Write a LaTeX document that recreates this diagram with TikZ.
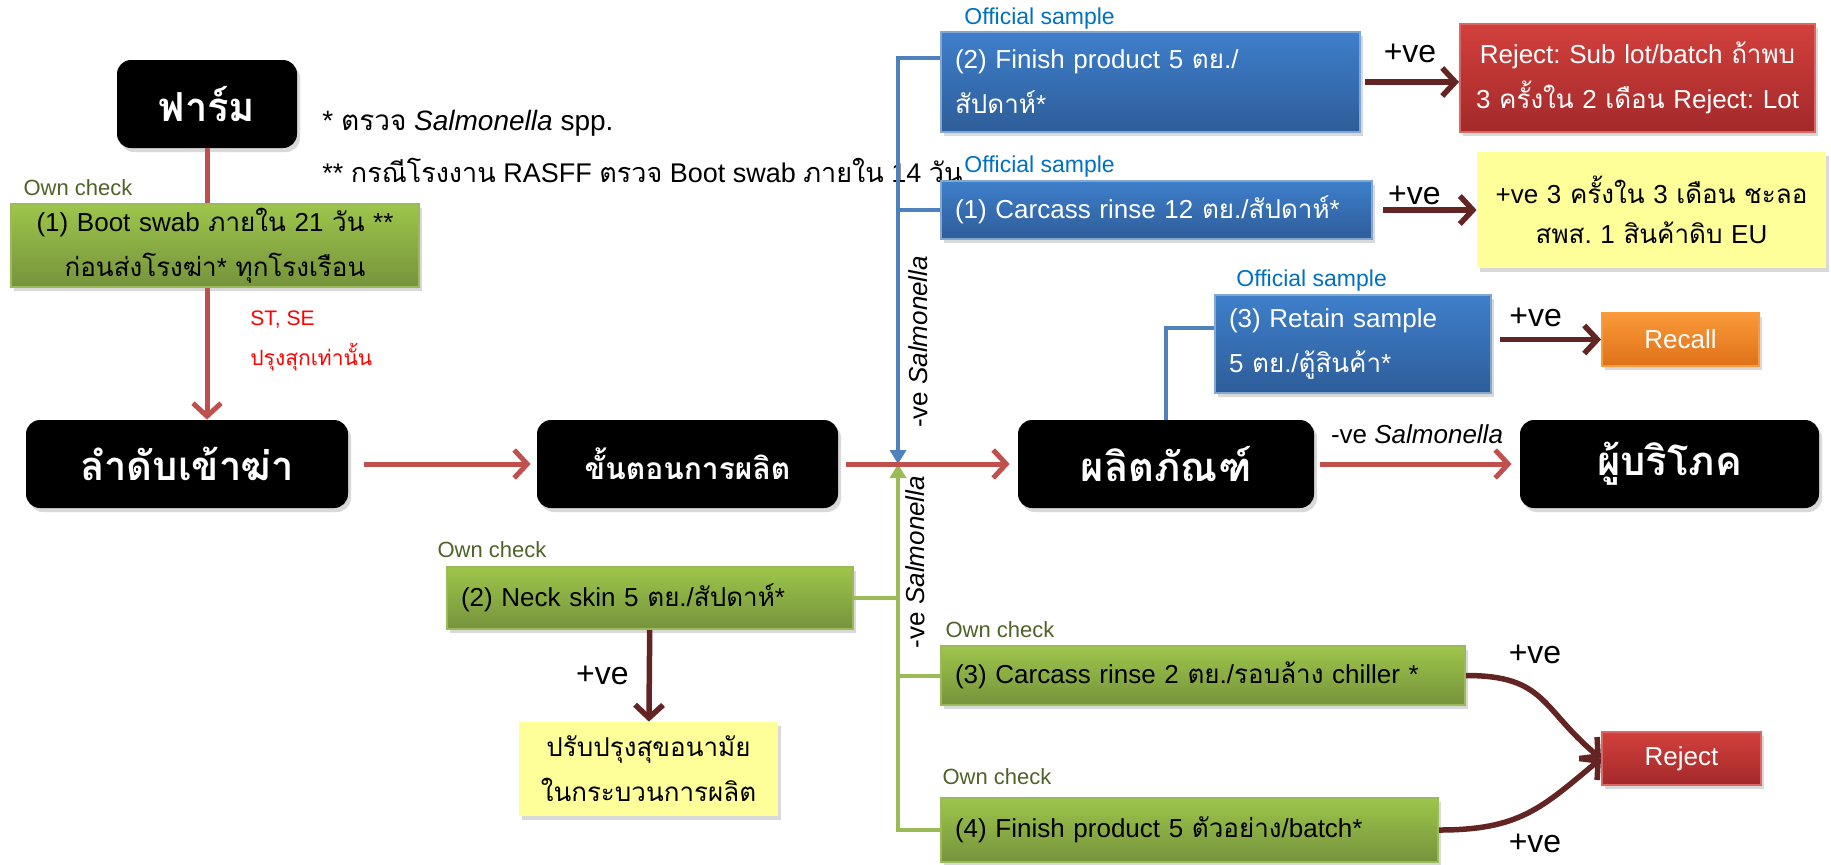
\documentclass[tikz,border=0pt]{standalone}
\usepackage{fontspec}
\setmainfont{Liberation Sans}
\newfontfamily\thaifont[Script=Thai]{Loma}
\newcommand\tha[1]{{\thaifont #1}}
\usetikzlibrary{arrows.meta,positioning,shadows,calc}
\frenchspacing

\definecolor{grtop}{HTML}{9DC54B}
\definecolor{grbot}{HTML}{76933C}
\definecolor{grline}{HTML}{9BBB59}
\definecolor{bltop}{HTML}{3E7FCB}
\definecolor{blbot}{HTML}{2E5D99}
\definecolor{blline}{HTML}{4F81BD}
\definecolor{rdtop}{HTML}{D2403C}
\definecolor{rdbot}{HTML}{A3292A}
\definecolor{ortop}{HTML}{FA9A3A}
\definecolor{orbot}{HTML}{DF7118}
\definecolor{yel}{HTML}{FFFF99}
\definecolor{cred}{HTML}{C0504D}
\definecolor{cdark}{HTML}{632523}
\definecolor{owncol}{HTML}{4F6228}
\definecolor{offcol}{HTML}{0070C0}

\tikzset{
  shade/.style={drop shadow={opacity=.3,shadow xshift=1.5pt,shadow yshift=-2pt}},
  blackbox/.style={fill=black, rounded corners=7pt, text=white, shade,
    font=\fontsize{20}{24}\selectfont\bfseries\thaifont, minimum height=44pt},
  box/.style={inner xsep=7pt, inner ysep=2pt, shade,
    font=\fontsize{13}{22.5}\selectfont},
  greenbox/.style={box, draw=grline, line width=1pt, top color=grtop, bottom color=grbot},
  bluebox/.style={box, draw=blline!70, line width=1pt, top color=bltop, bottom color=blbot, text=white, align=left},
  redbox/.style={box, draw=rdtop!80, line width=1pt, top color=rdtop, bottom color=rdbot, text=white, align=center},
  orangebox/.style={box, draw=ortop, line width=1pt, top color=ortop, bottom color=orbot, text=white},
  yellowbox/.style={box, fill=yel, align=center},
  owncheck/.style={text=owncol, font=\fontsize{11}{13}\selectfont, inner sep=0pt},
  official/.style={text=offcol, font=\fontsize{11.5}{13}\selectfont, inner sep=0pt, anchor=west},
  pve/.style={font=\fontsize{16}{18}\selectfont, inner sep=0pt},
  redarr/.style={draw=cred, line width=2.5pt, -{Straight Barb[length=6.5pt,width=14pt]}},
  darkarr/.style={draw=cdark, line width=2.75pt, -{Straight Barb[length=6.5pt,width=14pt]}},
  blueln/.style={draw=blline, line width=2pt},
  greenln/.style={draw=grline, line width=2pt}
}

\begin{document}
\begin{tikzpicture}[x=0.5pt,y=-0.5pt]
\useasboundingbox (0,0) rectangle (1831,864);

% main chain
\node[blackbox, minimum width=90pt] (farm) at (207,104) {ฟาร์ม};
\node[blackbox, minimum width=161pt] (kill) at (187,464) {ลำดับเข้าฆ่า};
\node[blackbox, minimum width=150.5pt, font=\fontsize{15}{18}\selectfont\bfseries\thaifont] (proc) at (687.5,464) {ขั้นตอนการผลิต};
\node[blackbox, minimum width=148pt] (prod) at (1166,464) {ผลิตภัณฑ์};
\node[blackbox, minimum width=149.5pt] (cons) at (1669.5,464) {ผู้บริโภค};

% farm checks
\node[owncheck] (oc_1) at (78,188) {Own check};
\node[greenbox, text width=190pt, align=center, minimum height=39.5pt] (gb_1) at (215,245.5)
  {(1) Boot swab \tha{ภายใน} 21 \tha{วัน} **\\\tha{ก่อนส่งโรงฆ่า}* \tha{ทุกโรงเรือน}};
\node[anchor=west, inner sep=0pt, font=\fontsize{14}{16}\selectfont] (fn_1) at (322,123)
  {* \tha{ตรวจ} \textit{Salmonella} spp.};
\node[anchor=west, inner sep=0pt, font=\fontsize{13.5}{16}\selectfont] (fn_2) at (322,170)
  {** \tha{กรณีโรงงาน} RASFF \tha{ตรวจ} Boot swab \tha{ภายใน} 14 \tha{วัน}};
\node[anchor=west, inner sep=0pt, text=red, font=\fontsize{10.5}{12}\selectfont] (st) at (250,320) {ST, SE};
\node[anchor=west, inner sep=0pt, text=red, font=\fontsize{10.5}{12}\selectfont\thaifont] (st_th) at (250,357) {ปรุงสุกเท่านั้น};

% official samples
\node[official] (of_2) at (964,19) {Official sample};
\node[bluebox, text width=195.5pt, minimum height=50pt] (os_2) at (1150.5,82)
  {(2) Finish product 5 \tha{ตย.}/\\\tha{สัปดาห์}*};
\node[official] (of_1) at (964,167) {Official sample};
\node[bluebox, text width=201.5pt, minimum height=29pt] (os_1) at (1156.5,210)
  {(1) Carcass rinse 12 \tha{ตย.}/\tha{สัปดาห์}*};
\node[official] (of_3) at (1236,281) {Official sample};
\node[bluebox, text width=124pt, minimum height=49pt] (os_3) at (1353,344)
  {(3) Retain sample\\5 \tha{ตย.}/\tha{ตู้สินค้า}*};
\node[redbox, inner xsep=2pt, text width=173.5pt, minimum height=54pt] (rj_1) at (1637.5,78)
  {Reject: Sub lot/batch \tha{ถ้าพบ}\\3 \tha{ครั้งใน} 2 \tha{เดือน} Reject: Lot};
\node[yellowbox, text width=160.5pt, minimum height=58pt, font=\fontsize{13}{20}\selectfont] (yl_1) at (1651.5,210)
  {+ve 3 \tha{ครั้งใน} 3 \tha{เดือน ชะลอ}\\\tha{สพส.} 1 \tha{สินค้าดิบ} EU};
\node[orangebox, minimum width=78.5pt, minimum height=26.5pt] (rc) at (1680.5,339.5) {Recall};

% own checks
\node[owncheck] (oc_2) at (492,550) {Own check};
\node[greenbox, text width=189pt, align=left, minimum height=31pt] (neck) at (650,598)
  {(2) Neck skin 5 \tha{ตย.}/\tha{สัปดาห์}*};
\node[yellowbox, text width=115.5pt, minimum height=47pt, font=\fontsize{13}{22.5}\selectfont\thaifont] (yl_2) at (648.5,769)
  {ปรับปรุงสุขอนามัย\\ในกระบวนการผลิต};
\node[owncheck] (oc_3) at (1000,630) {Own check};
\node[greenbox, text width=248pt, align=left, minimum height=29.5pt] (gb_3) at (1203,675.5)
  {(3) Carcass rinse 2 \tha{ตย.}/\tha{รอบล้าง} chiller *};
\node[owncheck] (oc_4) at (997,777) {Own check};
\node[greenbox, text width=234.5pt, align=left, minimum height=32pt] (gb_4) at (1189.5,830)
  {(4) Finish product 5 \tha{ตัวอย่าง}/batch*};
\node[redbox, minimum width=79.5pt, minimum height=26.5pt] (rj_2) at (1681.5,758.5) {Reject};

% junction
\coordinate (jn) at (898,464);
\coordinate (b_top) at (898,58);
\draw[blueln, -{Triangle[length=7pt,width=8pt]}] (os_2.west |- b_top) -- (b_top) -- (jn);
\draw[blueln] (os_1.west) -- (os_1.west -| jn);
\draw[blueln] (prod.north) |- ([yshift=8pt]os_3.west);
\draw[greenln, -{Triangle[length=7pt,width=8pt]}] (gb_4.west) -- (gb_4.west -| jn) -- (jn);
\draw[greenln] (neck.east) -- (neck.east -| jn);
\draw[greenln] (gb_3.west) -- (gb_3.west -| jn);
\node[rotate=90, inner sep=0pt, font=\fontsize{13}{15}\selectfont] (neg_1) at (918,342) {-ve \textit{Salmonella}};
\node[rotate=90, inner sep=0pt, font=\fontsize{13}{15}\selectfont] (neg_2) at (915,562) {-ve \textit{Salmonella}};

% red flow
\draw[cred, line width=2.5pt] (farm.south) -- (farm.south |- gb_1.north);
\draw[redarr] (farm.south |- gb_1.south) -- (farm.south |- kill.north);
\draw[redarr, shorten <=8pt, shorten >=3pt] (kill) -- (proc);
\draw[redarr, shorten <=4pt, shorten >=4pt] (proc) -- (prod);
\draw[redarr, shorten <=3pt, shorten >=4pt] (prod) -- node[above=9pt, inner sep=0pt, font=\fontsize{13}{15}\selectfont] {-ve \textit{Salmonella}} (cons);

% positive results
\draw[darkarr, shorten <=2pt] (os_2.east) -- node[pve, above=8pt] {+ve} (os_2.east -| rj_1.west);
\draw[darkarr, shorten <=5pt] (os_1) -- node[pve, above=1pt, pos=.4] {+ve} (yl_1);
\draw[darkarr, shorten <=4pt] (os_3.east |- rc) -- node[pve, above=5pt, pos=.4] {+ve} (rc);
\draw[darkarr] (neck) -- node[pve, left=9pt] {+ve} (yl_2);
\draw[darkarr] (gb_3.east) .. controls +(80,0) and +(-60,-50) .. (rj_2.west);
\draw[darkarr] (gb_4.east) .. controls +(80,0) and +(-60,50) .. (rj_2.west);
\node[pve] (pv_3) at (1535,654) {+ve};
\node[pve] (pv_4) at (1535,843) {+ve};
\end{tikzpicture}
\end{document}
